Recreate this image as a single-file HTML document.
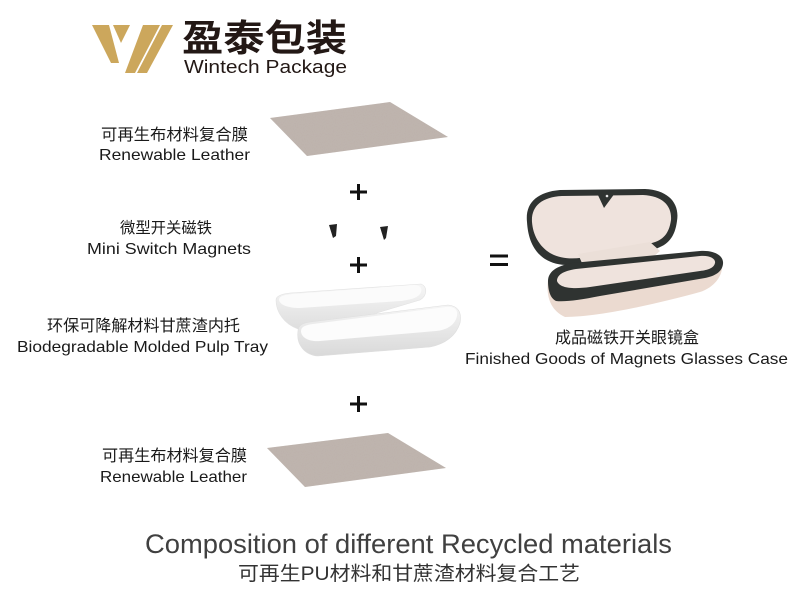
<!DOCTYPE html>
<html>
<head>
<meta charset="utf-8">
<style>
  html,body{margin:0;padding:0;background:#fff;}
  body{width:803px;height:607px;overflow:hidden;}
  svg{display:block;}
  .lbl{font-family:"Liberation Sans","Noto Sans CJK SC",sans-serif;fill:#1a1a1a;}
  .cjk{font-family:"Liberation Sans","Noto Sans CJK SC",sans-serif;fill:#1a1a1a;}
</style>
</head>
<body>
<svg width="803" height="607" viewBox="0 0 803 607" xmlns="http://www.w3.org/2000/svg">
  <defs>
    <filter id="noise" x="0" y="0" width="100%" height="100%">
      <feTurbulence type="fractalNoise" baseFrequency="0.9" numOctaves="2" seed="3" result="n"/>
      <feColorMatrix in="n" type="matrix" values="0 0 0 0 0.55  0 0 0 0 0.5  0 0 0 0 0.47  0 0 0 0.5 0" result="c"/>
      <feComposite in="c" in2="SourceGraphic" operator="in" result="m"/>
      <feMerge><feMergeNode in="SourceGraphic"/><feMergeNode in="m"/></feMerge>
    </filter>
    <linearGradient id="trayB" x1="0" y1="1" x2="0" y2="0">
      <stop offset="0" stop-color="#dedede"/>
      <stop offset="1" stop-color="#f6f6f6"/>
    </linearGradient>
    <linearGradient id="trayF" x1="0" y1="1" x2="0" y2="0">
      <stop offset="0" stop-color="#d9d9d9"/>
      <stop offset="1" stop-color="#f5f5f5"/>
    </linearGradient>
  </defs>

  <!-- Logo -->
  <g fill="#cca75c">
    <polygon points="92,25 109,25 119,63 111,63"/>
    <polygon points="113,25 130,25 121,43"/>
    <polygon points="143,25 160,25 135,73 125,73"/>
    <polygon points="162,25 173,25 147,73 137,73"/>
  </g>
  <text x="182" y="51" font-family="'Noto Sans CJK SC','WenQuanYi Zen Hei',sans-serif" font-weight="700" font-size="37" fill="#231815" textLength="165" lengthAdjust="spacingAndGlyphs">盈泰包装</text>
  <text x="184" y="73" font-family="'Liberation Sans',sans-serif" font-size="18" fill="#231815" textLength="163" lengthAdjust="spacingAndGlyphs">Wintech Package</text>

  <!-- Top leather -->
  <polygon points="270,118 390,102 448,137 307,156" fill="#bcb1aa" filter="url(#noise)"/>

  <!-- Labels left -->
  <text class="cjk" x="101" y="140" font-size="16" textLength="147" lengthAdjust="spacingAndGlyphs">可再生布材料复合膜</text>
  <text class="lbl" x="99" y="160" font-size="16" textLength="151" lengthAdjust="spacingAndGlyphs">Renewable Leather</text>

  <text class="cjk" x="120" y="233" font-size="15.5" textLength="92" lengthAdjust="spacingAndGlyphs">微型开关磁铁</text>
  <text class="lbl" x="87" y="254" font-size="16" textLength="164" lengthAdjust="spacingAndGlyphs">Mini Switch Magnets</text>

  <text class="cjk" x="47" y="331" font-size="16" textLength="193" lengthAdjust="spacingAndGlyphs">环保可降解材料甘蔗渣内托</text>
  <text class="lbl" x="17" y="352" font-size="16" textLength="251" lengthAdjust="spacingAndGlyphs">Biodegradable Molded Pulp Tray</text>

  <text class="cjk" x="102" y="461" font-size="16" textLength="145" lengthAdjust="spacingAndGlyphs">可再生布材料复合膜</text>
  <text class="lbl" x="100" y="482" font-size="16" textLength="147" lengthAdjust="spacingAndGlyphs">Renewable Leather</text>

  <!-- Right labels -->
  <text class="cjk" x="555" y="343" font-size="16" textLength="144" lengthAdjust="spacingAndGlyphs">成品磁铁开关眼镜盒</text>
  <text class="lbl" x="465" y="364" font-size="16" textLength="323" lengthAdjust="spacingAndGlyphs">Finished Goods of Magnets Glasses Case</text>

  <!-- Plus signs -->
  <g fill="#111">
    <rect x="350" y="190.5" width="17" height="3"/>
    <rect x="357" y="184" width="3" height="16"/>
    <rect x="350" y="263.5" width="17" height="3"/>
    <rect x="357" y="257" width="3" height="16"/>
    <rect x="350" y="402.5" width="17" height="3"/>
    <rect x="357" y="396" width="3" height="16"/>
    <!-- equals -->
    <rect x="490" y="254.5" width="18" height="3"/>
    <rect x="490" y="263" width="18" height="3"/>
  </g>

  <!-- Magnets -->
  <path d="M329,225 L337,224 L336,236 L333,238 Z" fill="#222"/>
  <path d="M380,227 L388,226 L386,238 L384,240 Z" fill="#222"/>

  <!-- Trays -->
  <path d="M276,300 C276,312 284,324 298,329 L330,327 L420,300 C427,296 428,287 421,284 L290,293 C281,294 276,296 276,300 Z" fill="url(#trayB)" stroke="#e2e2e2" stroke-width="0.6"/>
  <path d="M279,300 C279,296 284,295 292,294 L414,285 C421,285 423,289 420,294 C417,298 410,300 400,301 L300,308 C288,308 280,305 279,300 Z" fill="#fbfbfb"/>
  <path d="M298,331 C296,345 305,355 318,356 L430,347 C445,344 456,336 460,323 C462,312 458,306 448,305 L310,322 C302,323 298,326 298,331 Z" fill="url(#trayF)" stroke="#dedede" stroke-width="0.6"/>
  <path d="M301,331 C301,327 305,325 313,324 L446,307 C455,306 458,310 457,316 C455,325 447,330 436,331 L320,341 C308,342 301,337 301,331 Z" fill="#fcfcfc"/>

  <!-- Glasses case -->
  <!-- lid -->
  <path d="M527,222 C525,203 537,192 560,190 L645,189 C668,190 680,203 677,221 C675,237 668,245 655,249 L592,262 C572,267 556,266 545,259 C533,251 528,238 527,222 Z" fill="#2f3331"/>
  <path d="M532,222 C531,207 541,197 562,196 L643,195 C663,196 672,206 671,220 C669,234 663,240 652,243 L592,256 C574,260 560,259 550,253 C539,246 533,235 532,222 Z" fill="#efe3dd"/>
  <path d="M597,193 L615,193 L604,208 Z" fill="#2f3331"/>
  <circle cx="607" cy="196" r="1.3" fill="#e8e8e8"/>
  <!-- hinge flap -->
  <path d="M578,254 L650,242 L660,251 L652,258 L585,270 Z" fill="#ebdfd8"/>
  <!-- lower body -->
  <path d="M548,280 C546,296 550,310 565,317 C600,317 660,303 700,292 C715,287 723,275 722,265 L715,258 L560,270 Z" fill="#ebdad0"/>
  <path d="M548,281 C548,272 556,266 572,263 L700,251 C715,250 724,256 723,264 C722,272 715,276 705,278 L600,296 C580,300 565,302 556,301 C550,298 548,290 548,281 Z" fill="#2f3331"/>
  <path d="M557,281 C557,275 563,271 576,269 L700,256 C710,255 716,259 715,263 C714,268 708,270 700,271 L590,287 C575,289 560,289 557,281 Z" fill="#efe3dd"/>
  <circle cx="658" cy="274" r="1.3" fill="#e8e8e8"/>

  <!-- Bottom leather -->
  <polygon points="267,448 388,433 446,468 305,487" fill="#bcb1aa" filter="url(#noise)"/>

  <!-- Title -->
  <text x="145" y="553" font-family="'Liberation Sans',sans-serif" font-size="27" fill="#404040" textLength="527" lengthAdjust="spacingAndGlyphs">Composition of different Recycled materials</text>
  <text x="238" y="580" font-family="'Liberation Sans','Noto Sans CJK SC',sans-serif" font-size="19.5" fill="#333" textLength="342" lengthAdjust="spacingAndGlyphs">可再生PU材料和甘蔗渣材料复合工艺</text>
</svg>
</body>
</html>
